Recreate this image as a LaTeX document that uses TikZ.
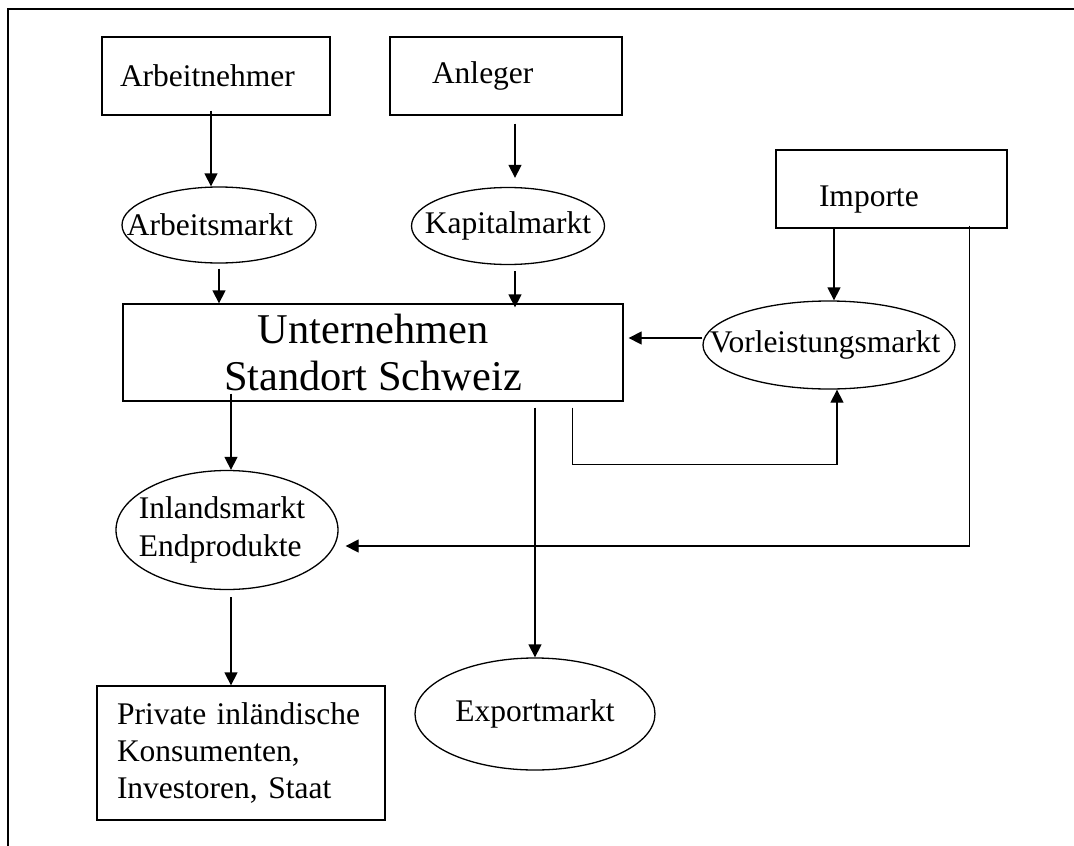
\documentclass[tikz,border=0pt]{standalone}
\usepackage{fontspec}
\setmainfont{Liberation Serif}
\usetikzlibrary{shapes.geometric,arrows.meta}

\begin{document}
\begin{tikzpicture}[x=1pt,y=-1pt,line width=1.3pt,>={Triangle[length=13pt,width=13pt]},
  font=\fontsize{31.5}{38}\selectfont,
  box/.style={draw,rectangle,align=left,inner ysep=0pt},
  mkt/.style={draw,ellipse,inner sep=0pt}]
\useasboundingbox (0,0) rectangle (1074,846);
\draw (8,846) -- (8,9) -- (1074,9);
% Anbieter
\node[box,minimum width=228pt,minimum height=78pt,text width=192pt,inner xsep=18pt] (arbn) at (216,76) {Arbeitnehmer};
\node[box,minimum width=232pt,minimum height=78pt,text width=148pt,inner xsep=42pt] (anleger) at (506,76) {Anleger};
\node[box,minimum width=231pt,minimum height=78pt,text width=145pt,inner xsep=43pt,text height=41pt] (importe) at (891.5,189) {Importe};
% Maerkte
\node[mkt,minimum width=194pt,minimum height=76pt,label={[xshift=-9pt]center:Arbeitsmarkt}] (arbmarkt) at (219,225) {};
\node[mkt,minimum width=193pt,minimum height=77pt,label=center:Kapitalmarkt] (kapmarkt) at (508,226) {};
\node[mkt,minimum width=252pt,minimum height=88pt,label={[xshift=-4pt]center:Vorleistungsmarkt}] (vormarkt) at (829,345) {};
\node[mkt,minimum width=222pt,minimum height=119pt,label={[align=left,xshift=-5pt]center:Inlandsmarkt\\Endprodukte}] (inlmarkt) at (227,530) {};
\node[mkt,minimum width=240pt,minimum height=112pt,label=center:Exportmarkt] (exmarkt) at (535,714) {};
% Unternehmen und Nachfrager
\node[draw,minimum width=500pt,minimum height=97pt,align=center,font=\fontsize{42.4}{47}\selectfont] (untern) at (373,352.5) {Unternehmen\\Standort Schweiz};
\node[box,minimum width=288pt,minimum height=134pt,text width=248pt,inner xsep=20pt,font=\fontsize{31.5}{37}\selectfont] (privat) at (241,753) {Private inländische\\Konsumenten,\\Investoren, Staat};

\draw[->] ([xshift=-5pt,yshift=5pt]arbn.south) -- ([xshift=-8pt]arbmarkt.north);
\draw[->] ([xshift=9pt,yshift=-8pt]anleger.south) -- ([xshift=7pt,yshift=9pt]kapmarkt.north);
\draw[->] ([yshift=-5pt]arbmarkt.south) -- (arbmarkt.south |- untern.north);
\draw[->] ([xshift=7pt,yshift=-6pt]kapmarkt.south) -- ([xshift=7pt,yshift=-4pt]kapmarkt.south |- untern.north);
\draw[->] ([xshift=5pt]vormarkt.north |- importe.south) -- ([xshift=5pt]vormarkt.north);
\draw[->] ([yshift=7pt]vormarkt.west) -- ([xshift=5pt,yshift=7pt]untern.east |- vormarkt.west);
\draw[->] ([xshift=-51pt,yshift=-6pt]untern.south east) -- ++(0,57) -| ([xshift=8pt]vormarkt.south);
\draw[->] ([xshift=4pt,yshift=8pt]inlmarkt.north |- untern.south) -- ([xshift=4pt]inlmarkt.north);
\draw[->] ([xshift=-38pt,yshift=3pt]importe.south east) |- ([xshift=7pt,yshift=-16pt]inlmarkt.east);
\draw[->] ([xshift=4pt,yshift=-7pt]inlmarkt.south) -- ([xshift=4pt]inlmarkt.south |- privat.north);
\draw[->] ([yshift=-6pt]exmarkt.north |- untern.south) -- (exmarkt.north);
\end{tikzpicture}
\end{document}
